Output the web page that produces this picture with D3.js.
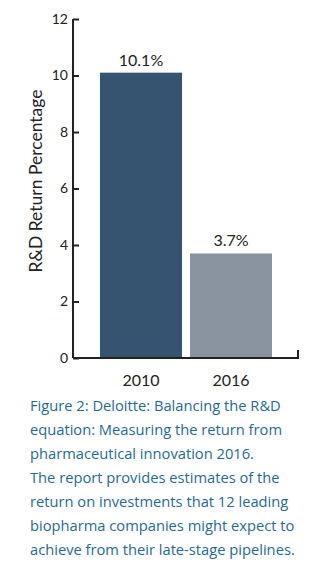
<!DOCTYPE html>
<html>
<head>
<meta charset="utf-8">
<script src="https://cdn.jsdelivr.net/npm/d3@7"></script>
<style>
  html, body { margin: 0; padding: 0; background: #fff; }
  svg { display: block; }
</style>
</head>
<body>
<script>
// Chart data
const years = ["2010", "2016"];
const returns = [10.1, 3.7];
const barColors = ["#36536f", "#8a93a0"];
const yTicks = [0, 2, 4, 6, 8, 10, 12];
const captionLines = [
  "Figure 2: Deloitte: Balancing the R&D",
  "equation: Measuring the return from",
  "pharmaceutical innovation 2016.",
  "The report provides estimates of the",
  "return on investments that 12 leading",
  "biopharma companies might expect to",
  "achieve from their late-stage pipelines."
];

const W = 325, H = 576;
const svg = d3.select("body").append("svg").attr("width", W).attr("height", H);

const axisLeft = 73, axisRight = 298, plotTop = 19, plotBottom = 358;
const chartFont = "Lato, 'Open Sans', sans-serif";

const y = d3.scaleLinear().domain([0, 12]).range([plotBottom, plotTop]);
const x = d3.scaleBand().domain(years).range([100, 272]).paddingInner(8 / 90).paddingOuter(0);

// Bars
svg.selectAll("rect.bar").data(years).join("rect")
  .attr("class", "bar")
  .attr("x", d => x(d))
  .attr("width", x.bandwidth())
  .attr("y", (d, i) => y(returns[i]))
  .attr("height", (d, i) => plotBottom - y(returns[i]))
  .attr("fill", (d, i) => barColors[i]);

// Value labels
svg.selectAll("text.val").data(years).join("text")
  .attr("class", "val")
  .attr("x", d => x(d) + x.bandwidth() / 2)
  .attr("y", (d, i) => y(returns[i]) - 7)
  .attr("text-anchor", "middle")
  .attr("font-family", chartFont)
  .attr("font-size", 16)
  .attr("fill", "#222")
  .text((d, i) => returns[i].toFixed(1) + "%");

// Y axis (ticks point inward)
const yAxis = d3.axisRight(y).tickValues(yTicks).tickSize(6).tickFormat(d3.format("d"));
const gy = svg.append("g").attr("transform", `translate(${axisLeft},0)`).call(yAxis);
gy.select(".domain").attr("stroke", "#222").attr("stroke-width", 2).attr("d", `M0,${plotTop}V${plotBottom}`);
gy.selectAll(".tick line").attr("stroke", "#222").attr("stroke-width", 2);
gy.selectAll(".tick text")
  .attr("x", -5).attr("text-anchor", "end")
  .attr("font-family", chartFont).attr("font-size", 14).attr("fill", "#222");

// X axis line with closing tick at the right end
svg.append("path")
  .attr("d", `M${axisLeft},${plotBottom}H${axisRight}V${plotBottom - 8}`)
  .attr("fill", "none").attr("stroke", "#222").attr("stroke-width", 2);

// Category labels
svg.selectAll("text.cat").data(years).join("text")
  .attr("class", "cat")
  .attr("x", d => x(d) + x.bandwidth() / 2)
  .attr("y", 386)
  .attr("text-anchor", "middle")
  .attr("font-family", chartFont)
  .attr("font-size", 16)
  .attr("fill", "#222")
  .text(d => d);

// Y axis title
svg.append("text")
  .attr("transform", "translate(42,181) rotate(-90)")
  .attr("text-anchor", "middle")
  .attr("font-family", chartFont)
  .attr("font-size", 17.5)
  .attr("fill", "#222")
  .text("R&D Return Percentage");

// Caption
svg.append("g").selectAll("text").data(captionLines).join("text")
  .attr("x", 30)
  .attr("y", (d, i) => 411 + i * 24)
  .attr("font-family", "'Open Sans', sans-serif")
  .attr("font-size", 14.7)
  .attr("fill", "#1f6a9a")
  .text(d => d);
</script>
</body>
</html>
